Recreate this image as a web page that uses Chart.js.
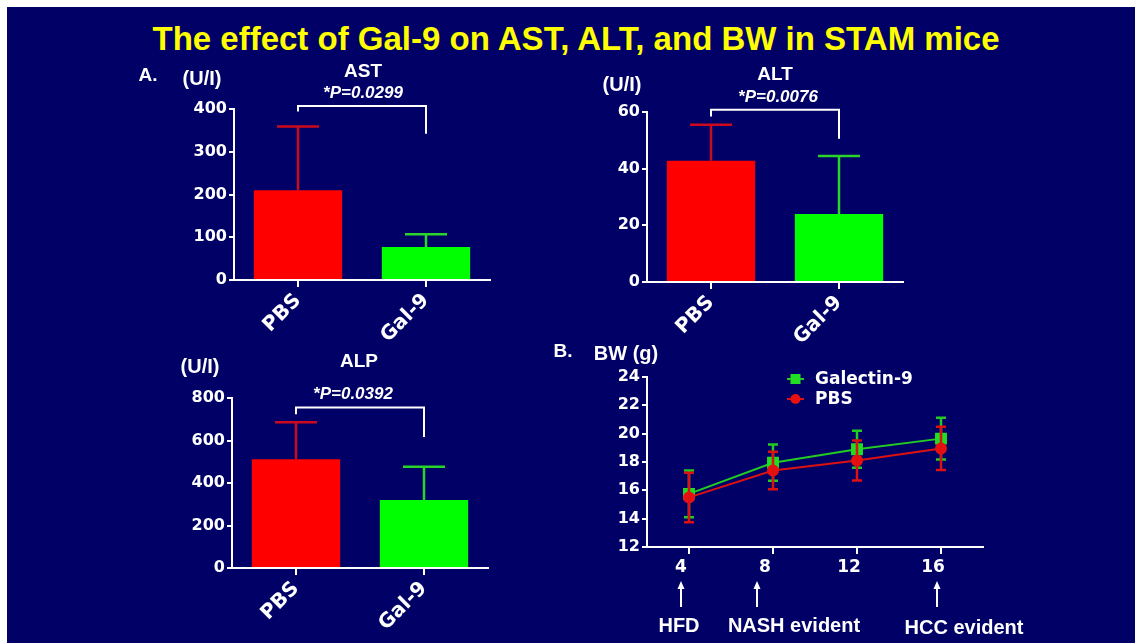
<!DOCTYPE html>
<html>
<head>
<meta charset="utf-8">
<script src="https://cdn.jsdelivr.net/npm/chart.js@4.4.1/dist/chart.umd.min.js"></script>
<style>
  html, body { margin: 0; padding: 0; background: #fff; width: 1135px; height: 643px; overflow: hidden; }
  #slide { position: absolute; left: 7px; top: 7px; width: 1128px; height: 636px; background: #000066; }
  canvas { position: absolute; }
  .t { position: absolute; white-space: nowrap; color: #fff; font-family: "Liberation Sans", Arial, sans-serif;
       font-weight: bold; line-height: 1; transform: translate(-50%, -50%); z-index: 5; }
  .p { font-style: italic; font-size: 17px; }
  #arrows { position: absolute; left: 0; top: 0; z-index: 5; }
</style>
</head>
<body>
<div id="slide"></div>

<div class="t" style="left:576px;top:38px;font-size:33px;color:#ffff00">The effect of Gal-9 on AST, ALT, and BW in STAM mice</div>

<div class="t" style="left:148px;top:74px;font-size:19px">A.</div>
<div class="t" style="left:202px;top:78px;font-size:20px">(U/I)</div>
<div class="t" style="left:363px;top:70px;font-size:19px">AST</div>
<div class="t p" style="left:363px;top:92px">*P=0.0299</div>

<div class="t" style="left:622px;top:84px;font-size:20px">(U/I)</div>
<div class="t" style="left:775px;top:73px;font-size:19px">ALT</div>
<div class="t p" style="left:778px;top:96px">*P=0.0076</div>

<div class="t" style="left:200px;top:366px;font-size:20px">(U/I)</div>
<div class="t" style="left:359px;top:360px;font-size:19px">ALP</div>
<div class="t p" style="left:353px;top:393px">*P=0.0392</div>

<div class="t" style="left:563px;top:350px;font-size:19px">B.</div>
<div class="t" style="left:626px;top:353px;font-size:20px">BW (g)</div>

<div class="t" style="left:679px;top:625px;font-size:20px">HFD</div>
<div class="t" style="left:794px;top:625px;font-size:20px">NASH evident</div>
<div class="t" style="left:964px;top:627px;font-size:20px">HCC evident</div>

<svg id="arrows" width="1135" height="643">
  <g stroke="#fff" stroke-width="2" fill="#fff">
    <line x1="681" y1="586" x2="681" y2="607"/>
    <polygon points="677.5,589 681,581 684.5,589" stroke="none"/>
    <line x1="757" y1="586" x2="757" y2="607"/>
    <polygon points="753.5,589 757,581 760.5,589" stroke="none"/>
    <line x1="937" y1="586" x2="937" y2="607"/>
    <polygon points="933.5,589 937,581 940.5,589" stroke="none"/>
  </g>
</svg>

<script>
// ---- data ----
const groups = ['PBS', 'Gal-9'];
const astMean = [210, 77];
const astErr = [149, 30];
const altMean = [42.8, 24.0];
const altErr = [12.7, 20.5];
const alpMean = [512, 320];
const alpErr = [174, 156];

const weeks = [4, 8, 12, 16];
const galBw = [15.75, 17.95, 18.9, 19.65];
const galBwErr = [1.65, 1.28, 1.3, 1.47];
const pbsBw = [15.5, 17.4, 18.1, 18.96];
const pbsBwErr = [1.75, 1.33, 1.41, 1.52];

const barColors = ['#ff0000', '#00ff00'];
const errColors = ['#cc0a1e', '#2bd42b'];

const YW = 80, XH = 80, PT = 30, PR = 12;
const tickFont = { family: 'DejaVu Sans', weight: 'bold', size: 16 };

// error bars drawn from the dataset values through the y scale
const errorBars = {
  id: 'errorBars',
  afterDatasetDraw(chart, args) {
    const ds = chart.data.datasets[args.index];
    if (!ds.errUp) return;
    const ys = chart.scales.y, ctx = chart.ctx;
    ctx.save();
    ctx.lineWidth = ds.errWidth || 2;
    args.meta.data.forEach((el, i) => {
      const d = ds.data[i];
      const v = typeof d === 'object' ? d.y : d;
      const top = ys.getPixelForValue(v + ds.errUp[i]);
      const bot = ds.errBoth ? ys.getPixelForValue(v - ds.errUp[i]) : el.y;
      const hw = ds.capWidth / 2;
      ctx.strokeStyle = Array.isArray(ds.errColor) ? ds.errColor[i] : ds.errColor;
      ctx.beginPath();
      ctx.moveTo(el.x, bot); ctx.lineTo(el.x, top);
      ctx.moveTo(el.x - hw, top); ctx.lineTo(el.x + hw, top);
      if (ds.errBoth) { ctx.moveTo(el.x - hw, bot); ctx.lineTo(el.x + hw, bot); }
      ctx.stroke();
    });
    ctx.restore();
  }
};

// significance bracket between the two bars
const bracket = {
  id: 'bracket',
  afterDraw(chart, args, o) {
    if (!o || o.top == null) return;
    const xs = chart.scales.x, ys = chart.scales.y, ctx = chart.ctx;
    const x0 = xs.getPixelForValue(0), x1 = xs.getPixelForValue(1);
    ctx.save();
    ctx.strokeStyle = '#fff';
    ctx.lineWidth = 2;
    ctx.beginPath();
    ctx.moveTo(x0, ys.getPixelForValue(o.left));
    ctx.lineTo(x0, ys.getPixelForValue(o.top));
    ctx.lineTo(x1, ys.getPixelForValue(o.top));
    ctx.lineTo(x1, ys.getPixelForValue(o.right));
    ctx.stroke();
    ctx.restore();
  }
};

function makeCanvas(area) {
  const c = document.createElement('canvas');
  const w = area.r - area.l + YW + PR, h = area.b - area.t + PT + XH;
  c.width = w; c.height = h;
  c.style.left = (area.l - YW) + 'px';
  c.style.top = (area.t - PT) + 'px';
  c.style.width = w + 'px'; c.style.height = h + 'px';
  document.body.appendChild(c);
  return c;
}

function axisY(min, max, step) {
  return {
    min: min, max: max,
    afterFit(s) { s.width = YW; },
    ticks: { stepSize: step, color: '#fff', font: tickFont, padding: 2 },
    grid: { drawOnChartArea: false, drawTicks: true, tickLength: 5, color: '#fff', lineWidth: 2 },
    border: { color: '#fff', width: 2 }
  };
}

function barChart(area, mean, err, yMax, yStep, br) {
  return new Chart(makeCanvas(area), {
    type: 'bar',
    data: {
      labels: groups,
      datasets: [{
        data: mean,
        backgroundColor: barColors,
        borderWidth: 0,
        barPercentage: 0.69,
        categoryPercentage: 1,
        errUp: err,
        errColor: errColors,
        capWidth: 42,
        errWidth: 2.5
      }]
    },
    options: {
      responsive: false, animation: false, devicePixelRatio: 1,
      layout: { padding: { top: PT, right: PR, left: 0, bottom: 0 } },
      plugins: { legend: { display: false }, tooltip: { enabled: false }, bracket: br },
      scales: {
        x: {
          afterFit(s) { s.height = XH; },
          ticks: { color: '#fff', font: { family: 'DejaVu Sans', weight: 'bold', size: 20 },
                   maxRotation: 45, minRotation: 45, autoSkip: false, padding: 2 },
          grid: { offset: false, drawOnChartArea: false, tickLength: 7, color: '#fff', lineWidth: 2 },
          border: { color: '#fff', width: 2 }
        },
        y: axisY(0, yMax, yStep)
      }
    },
    plugins: [errorBars, bracket]
  });
}

barChart({ l: 234, t: 109, r: 490, b: 280 }, astMean, astErr, 400, 100, { top: 407, left: 394, right: 342 });
barChart({ l: 647, t: 112, r: 903, b: 282 }, altMean, altErr, 60, 20, { top: 60.8, left: 58.4, right: 50.6 });
barChart({ l: 232, t: 398, r: 488, b: 568 }, alpMean, alpErr, 800, 200, { top: 755, left: 723, right: 617 });

// legend for the body weight chart
const bwLegend = {
  id: 'bwLegend',
  afterDraw(chart, args, o) {
    const ctx = chart.ctx, a = chart.chartArea;
    ctx.save();
    o.order.forEach((idx, row) => {
      const ds = chart.data.datasets[idx];
      const x = a.left + o.x, y = a.top + o.y + row * o.rowH;
      ctx.strokeStyle = ds.borderColor;
      ctx.lineWidth = 2;
      ctx.beginPath(); ctx.moveTo(x, y); ctx.lineTo(x + 17, y); ctx.stroke();
      ctx.fillStyle = ds.pointBackgroundColor;
      if (ds.pointStyle === 'rect') {
        ctx.fillRect(x + 8.5 - 5, y - 5, 10, 10);
      } else {
        ctx.beginPath(); ctx.arc(x + 8.5, y, 5, 0, Math.PI * 2); ctx.fill();
      }
      ctx.fillStyle = '#fff';
      ctx.font = 'bold 17px "DejaVu Sans"';
      ctx.textBaseline = 'middle';
      ctx.fillText(ds.label, x + 28, y + 1);
    });
    ctx.restore();
  }
};

const bwArea = { l: 647, t: 377, r: 983, b: 547 };
new Chart(makeCanvas(bwArea), {
  type: 'line',
  data: {
    datasets: [
      {
        label: 'Galectin-9',
        data: weeks.map((w, i) => ({ x: w, y: galBw[i] })),
        borderColor: '#22cc22', pointBackgroundColor: '#22dd22', pointBorderColor: '#22dd22',
        pointStyle: 'rect', pointRadius: 7, borderWidth: 2, order: 1,
        errUp: galBwErr, errBoth: true, errColor: '#22cc22', capWidth: 10, errWidth: 2.5
      },
      {
        label: 'PBS',
        data: weeks.map((w, i) => ({ x: w, y: pbsBw[i] })),
        borderColor: '#dd1111', pointBackgroundColor: '#e81010', pointBorderColor: '#e81010',
        pointStyle: 'circle', pointRadius: 5, borderWidth: 2, order: 0,
        errUp: pbsBwErr, errBoth: true, errColor: '#dd1111', capWidth: 10, errWidth: 2.5
      }
    ]
  },
  options: {
    responsive: false, animation: false, devicePixelRatio: 1,
    layout: { padding: { top: PT, right: PR, left: 0, bottom: 0 } },
    plugins: {
      legend: { display: false }, tooltip: { enabled: false },
      bwLegend: { order: [0, 1], x: 140, y: 2, rowH: 20 }
    },
    scales: {
      x: {
        type: 'linear', min: 2, max: 18,
        afterFit(s) { s.height = XH; },
        afterBuildTicks(s) { s.ticks = weeks.map(v => ({ value: v })); },
        ticks: { color: '#fff', font: { family: 'DejaVu Sans', weight: 'bold', size: 17 },
                 padding: 3, labelOffset: -8, maxRotation: 0 },
        grid: { drawOnChartArea: false, tickLength: 7, color: '#fff', lineWidth: 2 },
        border: { color: '#fff', width: 2 }
      },
      y: axisY(12, 24, 2)
    }
  },
  plugins: [errorBars, bwLegend]
});
</script>
</body>
</html>
